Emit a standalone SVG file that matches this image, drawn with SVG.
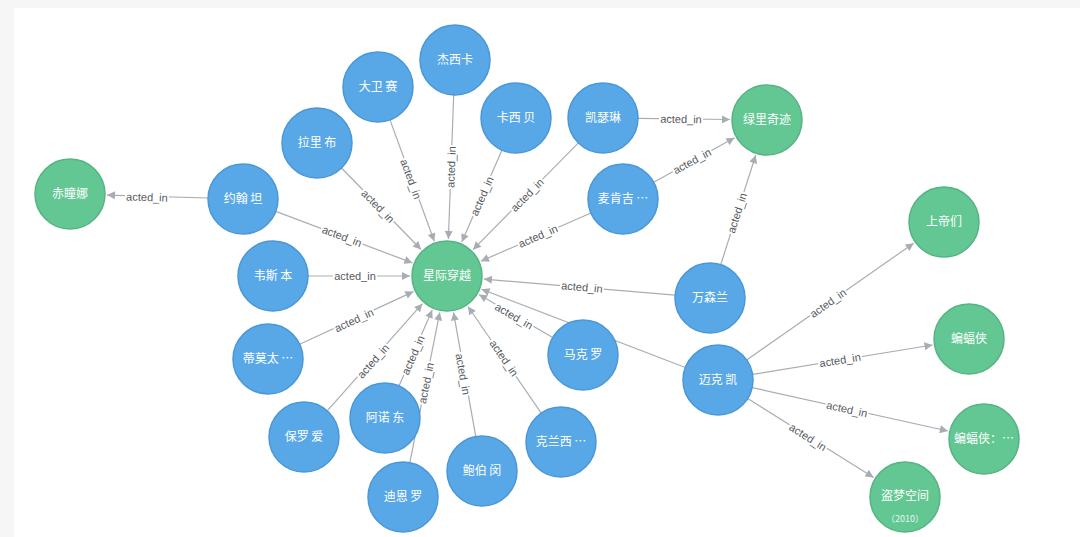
<svg xmlns="http://www.w3.org/2000/svg" width="1080" height="537" viewBox="0 0 1080 537">
<style>
.bg{fill:#f6f6f6}
.canvas{fill:#ffffff}
.actor{fill:#58a8e8;stroke:#4a97d8;stroke-width:1.5}
.movie{fill:#62c792;stroke:#55b482;stroke-width:1.5}
.nt{font-family:"Noto Sans CJK SC","Noto Sans",sans-serif;font-size:12px;fill:#ffffff;text-anchor:middle}
.nts{font-family:"Noto Sans CJK SC","Noto Sans",sans-serif;font-size:9px;fill:#e8f7ee;text-anchor:middle}
.edge{stroke:#a9adb3;stroke-width:1.2;fill:none;marker-end:url(#arr)}
.lb rect{fill:#ffffff}
.lb text{font-family:"Liberation Sans",Arial,sans-serif;font-size:11px;fill:#555a60;text-anchor:middle}
</style>
<defs>
<marker id="arr" viewBox="0 0 10 10" refX="10" refY="5" markerWidth="9" markerHeight="8" markerUnits="userSpaceOnUse" orient="auto">
<path d="M0,0L10,5L0,10z" fill="#a9adb3"/>
</marker>
</defs>
<rect class="bg" x="0" y="0" width="1080" height="537"/>
<rect class="canvas" x="14" y="8" width="1066" height="529"/>

<g id="connectors">
<line class="edge" x1="390.0" y1="119.9" x2="434.3" y2="241.3"/>
<line class="edge" x1="453.7" y1="95.0" x2="448.4" y2="239.0"/>
<line class="edge" x1="502.0" y1="150.1" x2="461.8" y2="242.1"/>
<line class="edge" x1="578.4" y1="142.9" x2="473.0" y2="249.7"/>
<line class="edge" x1="590.9" y1="213.0" x2="480.9" y2="261.2"/>
<line class="edge" x1="341.5" y1="168.0" x2="421.1" y2="249.5"/>
<line class="edge" x1="275.8" y1="211.4" x2="412.4" y2="262.9"/>
<line class="edge" x1="308" y1="276" x2="410" y2="276"/>
<line class="edge" x1="299.7" y1="344.3" x2="413.4" y2="291.6"/>
<line class="edge" x1="327.2" y1="410.8" x2="422.4" y2="303.7"/>
<line class="edge" x1="399.0" y1="385.9" x2="432.2" y2="309.9"/>
<line class="edge" x1="409.8" y1="462.7" x2="439.8" y2="312.3"/>
<line class="edge" x1="475.8" y1="436.6" x2="453.5" y2="312.4"/>
<line class="edge" x1="541.2" y1="413.2" x2="468.0" y2="306.5"/>
<line class="edge" x1="552.7" y1="337.4" x2="479.0" y2="294.6"/>
<line class="edge" x1="675.1" y1="295.1" x2="483.9" y2="279.1"/>
<line class="edge" x1="685.3" y1="367.5" x2="481.5" y2="289.2"/>
<line class="edge" x1="208.0" y1="198.0" x2="107.0" y2="195.1"/>
<line class="edge" x1="638" y1="118.4" x2="730" y2="119.5"/>
<line class="edge" x1="653.7" y1="182.2" x2="734.6" y2="137.8"/>
<line class="edge" x1="720.7" y1="264.7" x2="755.7" y2="155.2"/>
<line class="edge" x1="746.7" y1="359.9" x2="913.7" y2="243.2"/>
<line class="edge" x1="752.5" y1="374.4" x2="932.5" y2="345.0"/>
<line class="edge" x1="752.2" y1="387.6" x2="947.9" y2="431.0"/>
<line class="edge" x1="747.7" y1="398.6" x2="873.6" y2="477.4"/>

<g class="lb" transform="translate(411,179) rotate(69.9)"><rect x="-22" y="-7" width="44" height="14"/><text y="4">acted_in</text></g>
<g class="lb" transform="translate(451,167) rotate(-87.9)"><rect x="-22" y="-7" width="44" height="14"/><text y="4">acted_in</text></g>
<g class="lb" transform="translate(482,196) rotate(-66.4)"><rect x="-22" y="-7" width="44" height="14"/><text y="4">acted_in</text></g>
<g class="lb" transform="translate(527,195) rotate(-45.4)"><rect x="-22" y="-7" width="44" height="14"/><text y="4">acted_in</text></g>
<g class="lb" transform="translate(538,236) rotate(-23.6)"><rect x="-22" y="-7" width="44" height="14"/><text y="4">acted_in</text></g>
<g class="lb" transform="translate(378,206) rotate(45.7)"><rect x="-22" y="-7" width="44" height="14"/><text y="4">acted_in</text></g>
<g class="lb" transform="translate(342,236) rotate(20.7)"><rect x="-22" y="-7" width="44" height="14"/><text y="4">acted_in</text></g>
<g class="lb" transform="translate(355,276)"><rect x="-22" y="-7" width="44" height="14"/><text y="4">acted_in</text></g>
<g class="lb" transform="translate(354,320) rotate(-24.9)"><rect x="-22" y="-7" width="44" height="14"/><text y="4">acted_in</text></g>
<g class="lb" transform="translate(373,361) rotate(-48.4)"><rect x="-22" y="-7" width="44" height="14"/><text y="4">acted_in</text></g>
<g class="lb" transform="translate(413,355) rotate(-66.4)"><rect x="-22" y="-7" width="44" height="14"/><text y="4">acted_in</text></g>
<g class="lb" transform="translate(426,383) rotate(-78.7)"><rect x="-22" y="-7" width="44" height="14"/><text y="4">acted_in</text></g>
<g class="lb" transform="translate(463,374) rotate(79.8)"><rect x="-22" y="-7" width="44" height="14"/><text y="4">acted_in</text></g>
<g class="lb" transform="translate(504,358) rotate(55.5)"><rect x="-22" y="-7" width="44" height="14"/><text y="4">acted_in</text></g>
<g class="lb" transform="translate(514,316) rotate(30.1)"><rect x="-22" y="-7" width="44" height="14"/><text y="4">acted_in</text></g>
<g class="lb" transform="translate(582,287) rotate(4.8)"><rect x="-22" y="-7" width="44" height="14"/><text y="4">acted_in</text></g>
<g class="lb" transform="translate(147,197) rotate(1.7)"><rect x="-22" y="-7" width="44" height="14"/><text y="4">acted_in</text></g>
<g class="lb" transform="translate(681,119) rotate(0.7)"><rect x="-22" y="-7" width="44" height="14"/><text y="4">acted_in</text></g>
<g class="lb" transform="translate(692,161) rotate(-28.7)"><rect x="-22" y="-7" width="44" height="14"/><text y="4">acted_in</text></g>
<g class="lb" transform="translate(737,213) rotate(-72.2)"><rect x="-22" y="-7" width="44" height="14"/><text y="4">acted_in</text></g>
<g class="lb" transform="translate(828,303) rotate(-35.0)"><rect x="-22" y="-7" width="44" height="14"/><text y="4">acted_in</text></g>
<g class="lb" transform="translate(840,360) rotate(-9.3)"><rect x="-22" y="-7" width="44" height="14"/><text y="4">acted_in</text></g>
<g class="lb" transform="translate(847,409) rotate(12.5)"><rect x="-22" y="-7" width="44" height="14"/><text y="4">acted_in</text></g>
<g class="lb" transform="translate(808,437) rotate(32.0)"><rect x="-22" y="-7" width="44" height="14"/><text y="4">acted_in</text></g>
</g>

<g id="m-center"><circle class="movie" cx="447" cy="276" r="35"/><text class="nt" x="447" y="280">星际穿越</text></g>
<g id="m-left"><circle class="movie" cx="70" cy="194" r="35"/><text class="nt" x="70" y="198">赤瞳娜</text></g>
<g id="m-topright"><circle class="movie" cx="767" cy="120" r="35"/><text class="nt" x="767" y="124">绿里奇迹</text></g>
<g id="m-d"><circle class="movie" cx="944" cy="222" r="35"/><text class="nt" x="944" y="226">上帝们</text></g>
<g id="m-e"><circle class="movie" cx="969" cy="339" r="35"/><text class="nt" x="969" y="343">蝙蝠侠</text></g>
<g id="m-f"><circle class="movie" cx="984" cy="439" r="35"/><text class="nt" x="984" y="443">蝙蝠侠：…</text></g>
<g id="m-g"><circle class="movie" cx="905" cy="497" r="35"/><text class="nt" x="905" y="500">盗梦空间</text><text class="nts" x="905" y="522">（2010）</text></g>

<g id="a1"><circle class="actor" cx="378" cy="87" r="35"/><text class="nt" x="378" y="91">大卫 赛</text></g>
<g id="a2"><circle class="actor" cx="455" cy="60" r="35"/><text class="nt" x="455" y="64">杰西卡</text></g>
<g id="a3"><circle class="actor" cx="516" cy="118" r="35"/><text class="nt" x="516" y="122">卡西 贝</text></g>
<g id="a4"><circle class="actor" cx="603" cy="118" r="35"/><text class="nt" x="603" y="122">凯瑟琳</text></g>
<g id="a5"><circle class="actor" cx="623" cy="199" r="35"/><text class="nt" x="623" y="203">麦肯吉 …</text></g>
<g id="a6"><circle class="actor" cx="317" cy="143" r="35"/><text class="nt" x="317" y="147">拉里 布</text></g>
<g id="a7"><circle class="actor" cx="243" cy="199" r="35"/><text class="nt" x="243" y="203">约翰 坦</text></g>
<g id="a8"><circle class="actor" cx="273" cy="276" r="35"/><text class="nt" x="273" y="280">韦斯 本</text></g>
<g id="a9"><circle class="actor" cx="268" cy="359" r="35"/><text class="nt" x="268" y="363">蒂莫太 …</text></g>
<g id="a10"><circle class="actor" cx="304" cy="437" r="35"/><text class="nt" x="304" y="441">保罗 爱</text></g>
<g id="a11"><circle class="actor" cx="385" cy="418" r="35"/><text class="nt" x="385" y="422">阿诺 东</text></g>
<g id="a12"><circle class="actor" cx="403" cy="497" r="35"/><text class="nt" x="403" y="501">迪恩 罗</text></g>
<g id="a13"><circle class="actor" cx="482" cy="471" r="35"/><text class="nt" x="482" y="475">鲍伯 闵</text></g>
<g id="a14"><circle class="actor" cx="561" cy="442" r="35"/><text class="nt" x="561" y="446">克兰西 …</text></g>
<g id="a15"><circle class="actor" cx="583" cy="355" r="35"/><text class="nt" x="583" y="359">马克 罗</text></g>
<g id="a16"><circle class="actor" cx="710" cy="298" r="35"/><text class="nt" x="710" y="302">万森兰</text></g>
<g id="a17"><circle class="actor" cx="718" cy="380" r="35"/><text class="nt" x="718" y="384">迈克 凯</text></g>
</svg>
